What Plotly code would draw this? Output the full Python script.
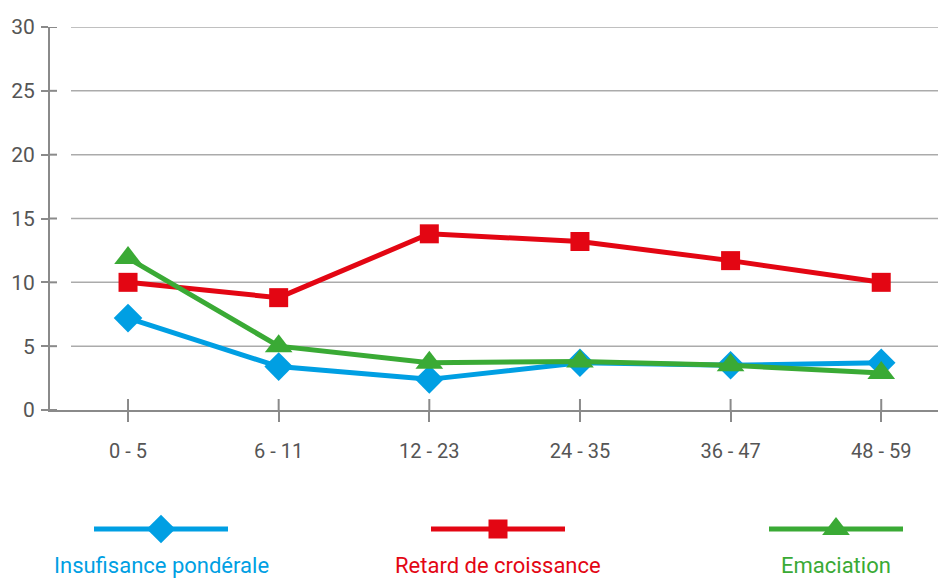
import plotly.graph_objects as go

# ---- data ----
categories = ["0 - 5", "6 - 11", "12 - 23", "24 - 35", "36 - 47", "48 - 59"]
insuffisance = [7.2, 3.4, 2.4, 3.7, 3.5, 3.7]
retard = [10.0, 8.8, 13.8, 13.2, 11.7, 10.0]
emaciation = [11.9, 5.0, 3.7, 3.8, 3.5, 2.9]
series_names = ["Insufisance pondérale", "Retard de croissance", "Emaciation"]
y_ticks = [0, 5, 10, 15, 20, 25, 30]

# ---- styles ----
BLUE = "#009FE3"
RED = "#E30613"
GREEN = "#3AAA35"
AXIS = "#8A8A8A"
GRID = "#ABABAB"
TXT = "#555555"
FONT = "Roboto, sans-serif"

W, H = 946, 578
OFF = 8  # the page body margin shifts the figure by this much
ML, MT, MR = 50 - OFF, 27 - OFF, OFF
plot_w = W - ML - MR
plot_h = H - MT
x_axis_page = 410
ydom0 = (H - (x_axis_page - OFF)) / plot_h


def px_x(px_page):
    return (px_page - OFF - ML) / plot_w


def px_y(py_page):
    return (H - (py_page - OFF)) / plot_h


fig = go.Figure()

series = [
    (series_names[0], insuffisance, BLUE, "diamond", 22),
    (series_names[1], retard, RED, "square", 19),
    (series_names[2], emaciation, GREEN, "triangle-up", 24),
]
for name, vals, col, sym, sz in series:
    fig.add_trace(go.Scatter(
        x=categories, y=vals, name=name, mode="lines+markers",
        line=dict(color=col, width=5),
        marker=dict(symbol=sym, size=sz, color=col, line=dict(width=0)),
        showlegend=False, cliponaxis=False,
    ))

# ---- custom legend (line sample + marker, text below) ----
leg_centers_px = [161, 498, 836]
leg_half = 67
leg_y_px = 529

shapes = []
annotations = []
for (name, vals, col, sym, sz), cx in zip(series, leg_centers_px):
    shapes.append(dict(type="line", xref="paper", yref="paper",
                       x0=px_x(cx - leg_half), x1=px_x(cx + leg_half),
                       y0=px_y(leg_y_px), y1=px_y(leg_y_px),
                       line=dict(color=col, width=5), layer="below"))
    fig.add_trace(go.Scatter(
        x=[px_x(cx)], y=[px_y(leg_y_px)], xaxis="x2", yaxis="y2",
        mode="markers", marker=dict(symbol=sym, size=sz, color=col, line=dict(width=0)),
        showlegend=False, hoverinfo="skip", cliponaxis=False,
    ))
    annotations.append(dict(text=name, xref="paper", yref="paper",
                            x=px_x(cx), y=px_y(565), xanchor="center", yanchor="middle",
                            showarrow=False, font=dict(family=FONT, size=22, color=col)))

# ---- gridlines (start a bit right of the axis) ----
for v in y_ticks[1:]:
    shapes.append(dict(type="line", xref="paper", yref="y",
                       x0=px_x(71), x1=1, y0=v, y1=v,
                       line=dict(color=GRID, width=1.5), layer="below"))
# inner halves of the cross ticks on y axis
for v in y_ticks:
    shapes.append(dict(type="line", xref="paper", yref="y",
                       x0=0, x1=px_x(57), y0=v, y1=v,
                       line=dict(color=AXIS, width=2)))
# inner halves of the cross ticks on x axis
for c in categories:
    shapes.append(dict(type="line", xref="x", yref="paper",
                       x0=c, x1=c, y0=ydom0, y1=px_y(399),
                       line=dict(color=AXIS, width=2)))

fig.update_layout(
    width=W, height=H,
    margin=dict(l=ML, r=MR, t=MT, b=0, pad=0, autoexpand=False),
    paper_bgcolor="white", plot_bgcolor="rgba(0,0,0,0)",
    font=dict(family=FONT, size=21, color=TXT),
    shapes=shapes, annotations=annotations,
    xaxis=dict(type="category", range=[-0.518, 5.43], showgrid=False,
               showline=True, linecolor=AXIS, linewidth=2,
               ticks="outside", ticklen=10, tickwidth=2, tickcolor=AXIS,
               ticklabelstandoff=12, tickfont=dict(size=20, color=TXT),
               anchor="y", zeroline=False, automargin=False),
    yaxis=dict(range=[0, 30], domain=[ydom0, 1], tickvals=y_ticks,
               showgrid=False, zeroline=False, anchor="x", automargin=False,
               showline=True, linecolor=AXIS, linewidth=2,
               ticks="outside", ticklen=7, tickwidth=2, tickcolor=AXIS,
               ticklabelstandoff=2, tickfont=dict(size=21, color=TXT)),
    xaxis2=dict(domain=[0, 1], range=[0, 1], visible=False, anchor="y2", automargin=False),
    yaxis2=dict(domain=[0, 1], range=[0, 1], visible=False, anchor="x2", automargin=False),
)

fig.write_html("out.html")
